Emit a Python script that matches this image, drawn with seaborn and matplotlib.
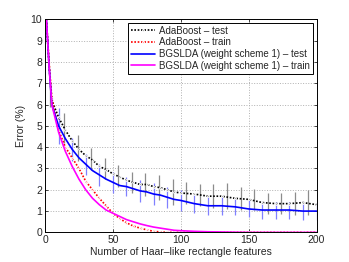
import matplotlib
matplotlib.use("Agg")
import matplotlib.pyplot as plt
import seaborn as sns
import pandas as pd

# curves
x_dense = [1, 3, 5, 10, 15, 20, 25, 30, 35, 40, 45, 50, 55, 60, 65, 70, 75, 80, 85, 90, 95, 100,
           110, 120, 130, 140, 150, 160, 170, 180, 190, 200]
ada_test = [10.0, 7.8, 6.2, 5.4, 4.8, 4.3, 3.9, 3.6, 3.4, 3.1, 2.95, 2.75, 2.6, 2.45, 2.35, 2.25,
            2.25, 2.15, 2.1, 2.0, 1.9, 1.85, 1.8, 1.7, 1.7, 1.6, 1.55, 1.4, 1.35, 1.35, 1.4, 1.3]
ada_train = [10.0, 8.0, 6.3, 4.8, 4.0, 3.5, 3.0, 2.4, 2.0, 1.6, 1.25, 0.9, 0.65, 0.45, 0.3, 0.2,
             0.12, 0.05, 0.02, 0.0, 0.0, 0.0, 0.0, 0.0, 0.0, 0.0, 0.0, 0.0, 0.0, 0.0, 0.0, 0.0]
bgs_test = [10.0, 7.8, 6.0, 5.0, 4.4, 3.9, 3.5, 3.2, 2.9, 2.7, 2.5, 2.35, 2.2, 2.15, 2.05, 1.95,
            1.9, 1.8, 1.75, 1.65, 1.55, 1.5, 1.35, 1.25, 1.25, 1.2, 1.1, 1.05, 1.05, 1.05, 1.0, 1.0]
bgs_train = [10.0, 7.8, 6.0, 4.7, 3.8, 3.1, 2.5, 2.0, 1.6, 1.3, 1.05, 0.9, 0.75, 0.6, 0.5, 0.4,
             0.32, 0.25, 0.2, 0.15, 0.1, 0.08, 0.05, 0.03, 0.02, 0.01, 0.0, 0.0, 0.0, 0.0, 0.0, 0.0]

# error bars
ada_err_x = [4, 14, 24, 34, 44, 54, 64, 74, 84, 94, 104, 114, 124, 134, 144, 154, 164, 174, 184, 194]
ada_err_y = [6.5, 4.9, 3.95, 3.45, 3.0, 2.65, 2.35, 2.25, 2.1, 1.9, 1.85, 1.75, 1.7, 1.7, 1.6,
             1.55, 1.35, 1.35, 1.35, 1.4]
ada_err_e = [0.6, 0.7, 0.6, 0.5, 0.5, 0.5, 0.5, 0.55, 0.6, 0.6, 0.5, 0.5, 0.55, 0.6, 0.55, 0.5,
             0.5, 0.5, 0.55, 0.6]
bgs_err_x = [10, 20, 30, 40, 50, 60, 70, 80, 90, 100, 110, 120, 130, 140, 150, 160, 170, 180, 190, 200]
bgs_err_y = [5.0, 3.9, 3.2, 2.7, 2.35, 2.15, 1.95, 1.8, 1.65, 1.5, 1.35, 1.25, 1.25, 1.2, 1.1,
             1.05, 1.05, 1.05, 1.0, 1.0]
bgs_err_e = [0.85, 0.55, 0.5, 0.5, 0.5, 0.45, 0.5, 0.5, 0.5, 0.5, 0.45, 0.45, 0.45, 0.4, 0.4,
             0.4, 0.4, 0.4, 0.4, 0.4]

sns.set_theme(style="ticks")
plt.rcParams['font.family'] = ['Liberation Sans', 'DejaVu Sans']
plt.rcParams['xtick.direction'] = 'in'
plt.rcParams['ytick.direction'] = 'in'

fig = plt.figure(figsize=(3.49, 2.62), dpi=100)
ax = fig.add_axes([0.129, 0.113, 0.778, 0.813])

df = pd.DataFrame({'x': x_dense, 'ada_test': ada_test, 'ada_train': ada_train,
                   'bgs_test': bgs_test, 'bgs_train': bgs_train})

ax.errorbar(ada_err_x, ada_err_y, yerr=ada_err_e, fmt='none', ecolor='#8c8c8c', elinewidth=0.9)
ax.errorbar(bgs_err_x, bgs_err_y, yerr=bgs_err_e, fmt='none', ecolor='#8080ff', elinewidth=0.9)

sns.lineplot(data=df, x='x', y='ada_test', ax=ax, color='black', linestyle=(0, (1, 1)),
             linewidth=1.2, marker='.', markersize=2.5, label='AdaBoost \u2013 test')
sns.lineplot(data=df, x='x', y='ada_train', ax=ax, color='#ff0000', linestyle=(0, (1, 1)),
             linewidth=1.2, marker='.', markersize=2.5, label='AdaBoost \u2013 train')
sns.lineplot(data=df, x='x', y='bgs_test', ax=ax, color='#0000ff', linewidth=1.2,
             label='BGSLDA (weight scheme 1) \u2013 test')
sns.lineplot(data=df, x='x', y='bgs_train', ax=ax, color='#ff00ff', linewidth=1.2,
             label='BGSLDA (weight scheme 1) \u2013 train')

ax.set_xlim(0, 200)
ax.set_ylim(0, 10)
ax.set_xticks([0, 50, 100, 150, 200])
ax.set_yticks(range(0, 11))
ax.grid(True, linestyle=':', color='#b0b0b0', linewidth=0.7)
ax.tick_params(labelsize=7.5, length=2, width=0.6, top=True, right=True, pad=2)
for s in ax.spines.values():
    s.set_linewidth(0.7)
    s.set_color('black')
ax.set_xlabel('Number of Haar\u2013like rectangle features', fontsize=7.5, labelpad=1)
ax.set_ylabel('Error (%)', fontsize=7.5, labelpad=3)

leg = ax.legend(loc='upper right', fontsize=7, frameon=True, fancybox=False,
                borderaxespad=0.35, handlelength=2.5, labelspacing=0.17, borderpad=0.3,
                handletextpad=0.4)
leg.get_frame().set_edgecolor('black')
leg.get_frame().set_linewidth(0.7)
leg.get_frame().set_alpha(1)

fig.savefig('out.png', dpi=100)
